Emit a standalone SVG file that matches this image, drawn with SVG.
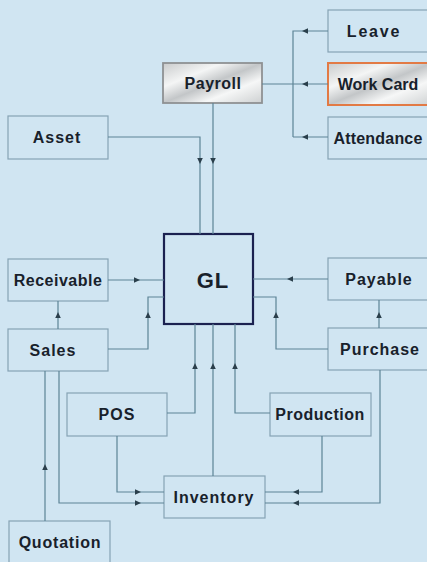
<svg xmlns="http://www.w3.org/2000/svg" xmlns:xlink="http://www.w3.org/1999/xlink" width="427" height="562" viewBox="0 0 427 562">
<defs>
<linearGradient id="silver" x1="0" y1="0" x2="1" y2="1">
<stop offset="0" stop-color="#c9cbcc"/>
<stop offset="0.3" stop-color="#f4f5f5"/>
<stop offset="0.5" stop-color="#c3c6c8"/>
<stop offset="0.7" stop-color="#f6f7f7"/>
<stop offset="1" stop-color="#cdd0d1"/>
</linearGradient>
<path id="ah" d="M0,0 L-6,-2.8 L-6,2.8 Z" fill="#2a3f4c"/>
<style>
.box{fill:#d0e5f2;stroke:#86a2b4;stroke-width:1.2}
.lbl{font-family:"Liberation Sans",Arial,sans-serif;font-weight:bold;font-size:16px;fill:#18212b;text-anchor:middle;letter-spacing:0.5px}
.ln{fill:none;stroke:#5d8496;stroke-width:1.2}
</style>
</defs>
<rect width="427" height="562" fill="#d0e5f2"/>

<g id="leave"><rect class="box" x="328" y="10" width="104" height="42"/><text class="lbl" x="374" y="37" style="letter-spacing:1.8px">Leave</text></g>
<g id="workcard"><rect x="328" y="63" width="104" height="42" fill="url(#silver)" stroke="#e27a45" stroke-width="2"/><text class="lbl" x="378" y="90" style="letter-spacing:0">Work Card</text></g>
<g id="attendance"><rect class="box" x="328" y="117" width="104" height="42"/><text class="lbl" x="378" y="144" style="letter-spacing:0.2px">Attendance</text></g>
<g id="payroll"><rect x="163" y="63" width="99" height="40" fill="url(#silver)" stroke="#8e9193" stroke-width="1.8"/><text class="lbl" x="213" y="89">Payroll</text></g>
<g id="asset"><rect class="box" x="8" y="116" width="100" height="43"/><text class="lbl" x="57" y="143" style="letter-spacing:1px">Asset</text></g>
<g id="gl"><rect x="164" y="234" width="89" height="90" fill="#d0e5f2" stroke="#1b2150" stroke-width="2.2"/><text x="213" y="288" font-family="'Liberation Sans',Arial,sans-serif" font-weight="bold" font-size="22" fill="#18212b" text-anchor="middle" letter-spacing="1">GL</text></g>
<g id="receivable"><rect class="box" x="8" y="259" width="100" height="42"/><text class="lbl" x="58" y="286">Receivable</text></g>
<g id="payable"><rect class="box" x="328" y="258" width="104" height="42"/><text class="lbl" x="379" y="285" style="letter-spacing:1px">Payable</text></g>
<g id="sales"><rect class="box" x="8" y="329" width="100" height="42"/><text class="lbl" x="53" y="356" style="letter-spacing:1px">Sales</text></g>
<g id="purchase"><rect class="box" x="328" y="328" width="104" height="42"/><text class="lbl" x="380" y="355" style="letter-spacing:1px">Purchase</text></g>
<g id="pos"><rect class="box" x="67" y="393" width="100" height="43"/><text class="lbl" x="117" y="420" style="letter-spacing:1px">POS</text></g>
<g id="production"><rect class="box" x="270" y="393" width="101" height="43"/><text class="lbl" x="320" y="420">Production</text></g>
<g id="inventory"><rect class="box" x="164" y="476" width="101" height="42"/><text class="lbl" x="214" y="503" style="letter-spacing:1px">Inventory</text></g>
<g id="quotation"><rect class="box" x="9" y="521" width="101" height="45"/><text class="lbl" x="60" y="548" style="letter-spacing:0.8px">Quotation</text></g>

<g id="connectors">
<path class="ln" d="M328,31 H293 V137 M328,84 H262 M328,137 H293"/>
<path class="ln" d="M213,103 V234 M108,137 H200 V234"/>
<path class="ln" d="M108,280 H164 M108,349 H148 V297 H164 M58,329 V301"/>
<path class="ln" d="M328,279 H253 M328,349 H276 V297 H253 M379,328 V300"/>
<path class="ln" d="M167,413 H195 V324 M213,476 V324 M270,413 H235 V324"/>
<path class="ln" d="M117,436 V492 H164 M59,371 V503 H164 M45,521 V371"/>
<path class="ln" d="M322,436 V492 H265 M380,370 V503 H265"/>
<use xlink:href="#ah" transform="translate(302,31) rotate(180)"/>
<use xlink:href="#ah" transform="translate(302,84) rotate(180)"/>
<use xlink:href="#ah" transform="translate(302,137) rotate(180)"/>
<use xlink:href="#ah" transform="translate(213,164) rotate(90)"/>
<use xlink:href="#ah" transform="translate(200,164) rotate(90)"/>
<use xlink:href="#ah" transform="translate(140,280)"/>
<use xlink:href="#ah" transform="translate(148,312) rotate(-90)"/>
<use xlink:href="#ah" transform="translate(58,312) rotate(-90)"/>
<use xlink:href="#ah" transform="translate(287,279) rotate(180)"/>
<use xlink:href="#ah" transform="translate(276,312) rotate(-90)"/>
<use xlink:href="#ah" transform="translate(379,312) rotate(-90)"/>
<use xlink:href="#ah" transform="translate(195,363) rotate(-90)"/>
<use xlink:href="#ah" transform="translate(213,363) rotate(-90)"/>
<use xlink:href="#ah" transform="translate(235,363) rotate(-90)"/>
<use xlink:href="#ah" transform="translate(141,492)"/>
<use xlink:href="#ah" transform="translate(141,503)"/>
<use xlink:href="#ah" transform="translate(45,464) rotate(-90)"/>
<use xlink:href="#ah" transform="translate(293,492) rotate(180)"/>
<use xlink:href="#ah" transform="translate(293,503) rotate(180)"/>
</g>
</svg>
